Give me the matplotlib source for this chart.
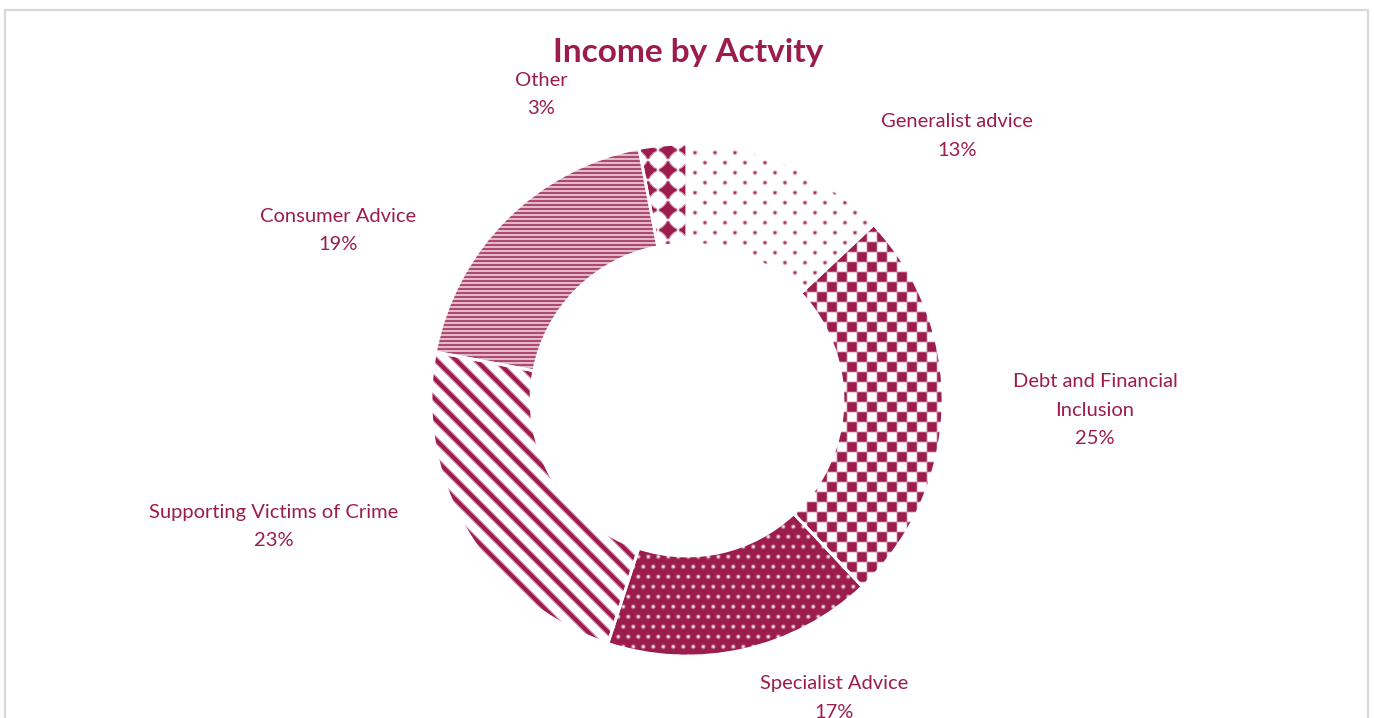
import numpy as np
import matplotlib.pyplot as plt
from matplotlib.colors import to_rgb

# Income split by activity (percent)
activities = ["Generalist advice", "Debt and Financial\nInclusion", "Specialist Advice",
              "Supporting Victims of Crime", "Consumer Advice", "Other"]
shares = [13, 25, 17, 23, 19, 3]

# label anchors: (centre x, first baseline) in pixels from top-left
label_pos = [(957, 127), (1095, 387), (834, 689), (274, 518), (338, 222), (541, 86)]

W, H = 1374, 718
BERRY = '#9B1C4D'
CENTER = (687, H - 400)
R_OUT, RING = 256, 100

plt.rcParams['font.family'] = ['Lato', 'DejaVu Sans']

yy, xx = np.mgrid[0:H, 0:W].astype(float) + 0.5


def soften(t, n=1):
    for _ in range(n):
        t = (t + np.roll(t, 1, 0) + np.roll(t, -1, 0)
             + np.roll(t, 1, 1) + np.roll(t, -1, 1)) / 5.0
    return t


def dots_sparse():
    k = np.round((yy - 152.7) / 10)
    dy = yy - (152.7 + 10 * k)
    x0 = 695 + 10 * (k % 2)
    dx = ((xx - x0 + 10) % 20) - 10
    d = np.hypot(dx, dy)
    return soften(np.clip(2.2 - d, 0, 1), 1)


def checker():
    cx = np.floor((xx - 867) / 10)
    cy = np.floor((yy - 242) / 10)
    return soften(((cx + cy) % 2 == 0).astype(float), 1)


def dots_reverse():
    k = np.round((yy - 566.7) / 10)
    dy = yy - (566.7 + 10 * k)
    x0 = 713.3 + 5 * (k % 2)
    dx = ((xx - x0 + 5) % 10) - 5
    d = np.hypot(dx, dy)
    return 1 - soften(np.clip(2.3 - d, 0, 1), 1) * 0.9


def diagonal():
    u = (xx - yy - 73) % 20
    return soften((u < 7).astype(float), 1)


def horizontal():
    r = np.floor(yy) % 4
    return np.where(r < 2, 0.8, 0.3)


def diamonds():
    dx = np.abs(((xx - 668 + 10) % 20) - 10)
    dy = np.abs(((yy - 150 + 10) % 20) - 10)
    p = 0.85
    d = (dx ** p + dy ** p) ** (1 / p)
    return soften((d < 10).astype(float), 1)


textures = [dots_sparse, checker, dots_reverse, diagonal, horizontal, diamonds]

fig = plt.figure(figsize=(W / 100, H / 100), dpi=100)
ax = fig.add_axes([0, 0, 1, 1])

wedges, _ = ax.pie(shares, startangle=90, counterclock=False, center=CENTER,
                   radius=R_OUT, frame=False,
                   wedgeprops=dict(width=RING, facecolor='none',
                                   edgecolor='white', linewidth=2))

c = np.array(to_rgb(BERRY))
for wedge, tex in zip(wedges, textures):
    wedge.set_zorder(3)
    t = tex()[..., None]
    rgb = 1 - t * (1 - c)
    im = ax.imshow(rgb, extent=(0, W, 0, H), origin='upper',
                   interpolation='nearest', zorder=1)
    im.set_clip_path(wedge)

ax.set_xlim(0, W)
ax.set_ylim(0, H)
ax.set_aspect('auto')
ax.axis('off')

# title
ax.text(688, H - 62, "Income by Actvity", ha='center', va='baseline',
        fontsize=24, fontweight='bold', color=BERRY)

# slice labels: name lines followed by the share
for name, share, (lx, ly) in zip(activities, shares, label_pos):
    lines = name.split('\n') + [f"{share}%"]
    for i, line in enumerate(lines):
        ax.text(lx, H - (ly + 28.5 * i), line, ha='center', va='baseline',
                fontsize=14.5, color=BERRY)

# chart area border (open at the bottom)
ax.plot([5, 5, 1368, 1368], [0, H - 10, H - 10, 0], color='#D9D9D9',
        linewidth=1.6, clip_on=False, zorder=0)

fig.savefig('out.png', dpi=100)
